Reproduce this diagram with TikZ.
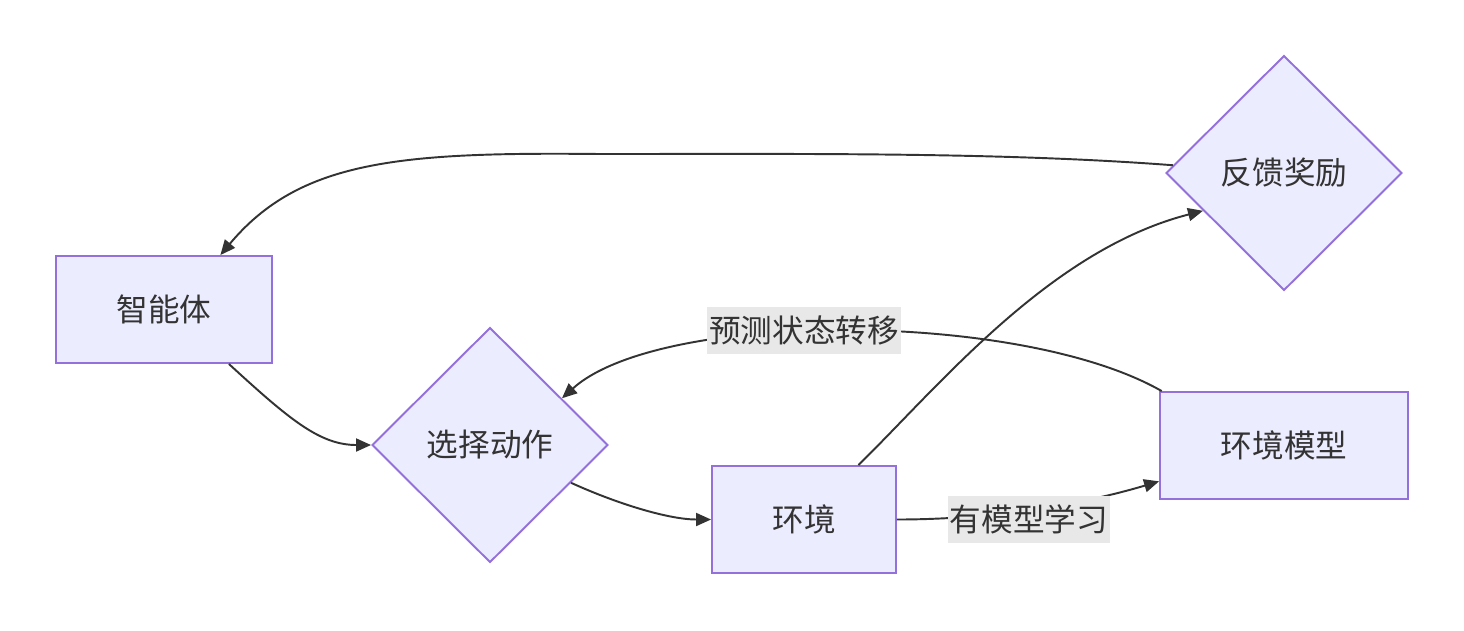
\documentclass[tikz,border=0pt]{standalone}
\usepackage{fontspec}
\newfontfamily\cjk{Noto Sans CJK SC}
\usetikzlibrary{shapes.geometric,arrows.meta}
\definecolor{boxfill}{HTML}{ECECFF}
\definecolor{boxline}{HTML}{9370DB}
\definecolor{ink}{HTML}{333333}
\definecolor{lblfill}{HTML}{E8E8E8}
\tikzset{
  box/.style={draw=boxline, fill=boxfill, line width=1.1pt, minimum height=2.14cm, text=ink, font=\cjk\fontsize{18}{21}\selectfont},
  choice/.style={box, diamond, minimum width=4.72cm, minimum height=4.7cm, inner sep=0pt},
  lbl/.style={fill=lblfill, text=ink, font=\cjk\fontsize{18}{21}\selectfont, inner xsep=1pt, inner ysep=0pt, minimum height=0.94cm},
  link/.style={draw=ink, line width=1.1pt, ->},
}
\begin{document}
\begin{tikzpicture}[x=0.02cm, y=-0.02cm, >={Triangle[length=0.3cm,width=0.26cm]}]
\useasboundingbox (0,0) rectangle (1464,630);

\node[box, minimum width=4.32cm] (agent) at (164,309.5) {智能体};
\node[choice] (act) at (490,445) {选择动作};
\node[box, minimum width=3.68cm] (env) at (804,519.5) {环境};
\node[box, minimum width=4.96cm] (model) at (1284,445.5) {环境模型};
\node[choice] (reward) at (1284,173) {反馈奖励};

\draw[link] (agent.-40) .. controls (290,420) and (320,445) .. (act.west);
\draw[link] (act.-25) .. controls (620,505) and (670,519.5) .. (env.west);
\draw[link] (env.45) .. controls (940,385) and (1050,250) .. (reward.205);
\draw[link] (env.east) .. controls (1000,519.5) and (1090,502) .. (model.196);
\draw[link] (model.156) .. controls (1020,310) and (660,310) .. (act.33);
\draw[link] (reward.176) .. controls (1000,152) and (800,154) .. (600,154)
  .. controls (400,152) and (300,160) .. (agent.44);

\node[lbl] (predict) at (804,330) {预测状态转移};
\node[lbl] (learn) at (1029,519.5) {有模型学习};

\end{tikzpicture}
\end{document}
